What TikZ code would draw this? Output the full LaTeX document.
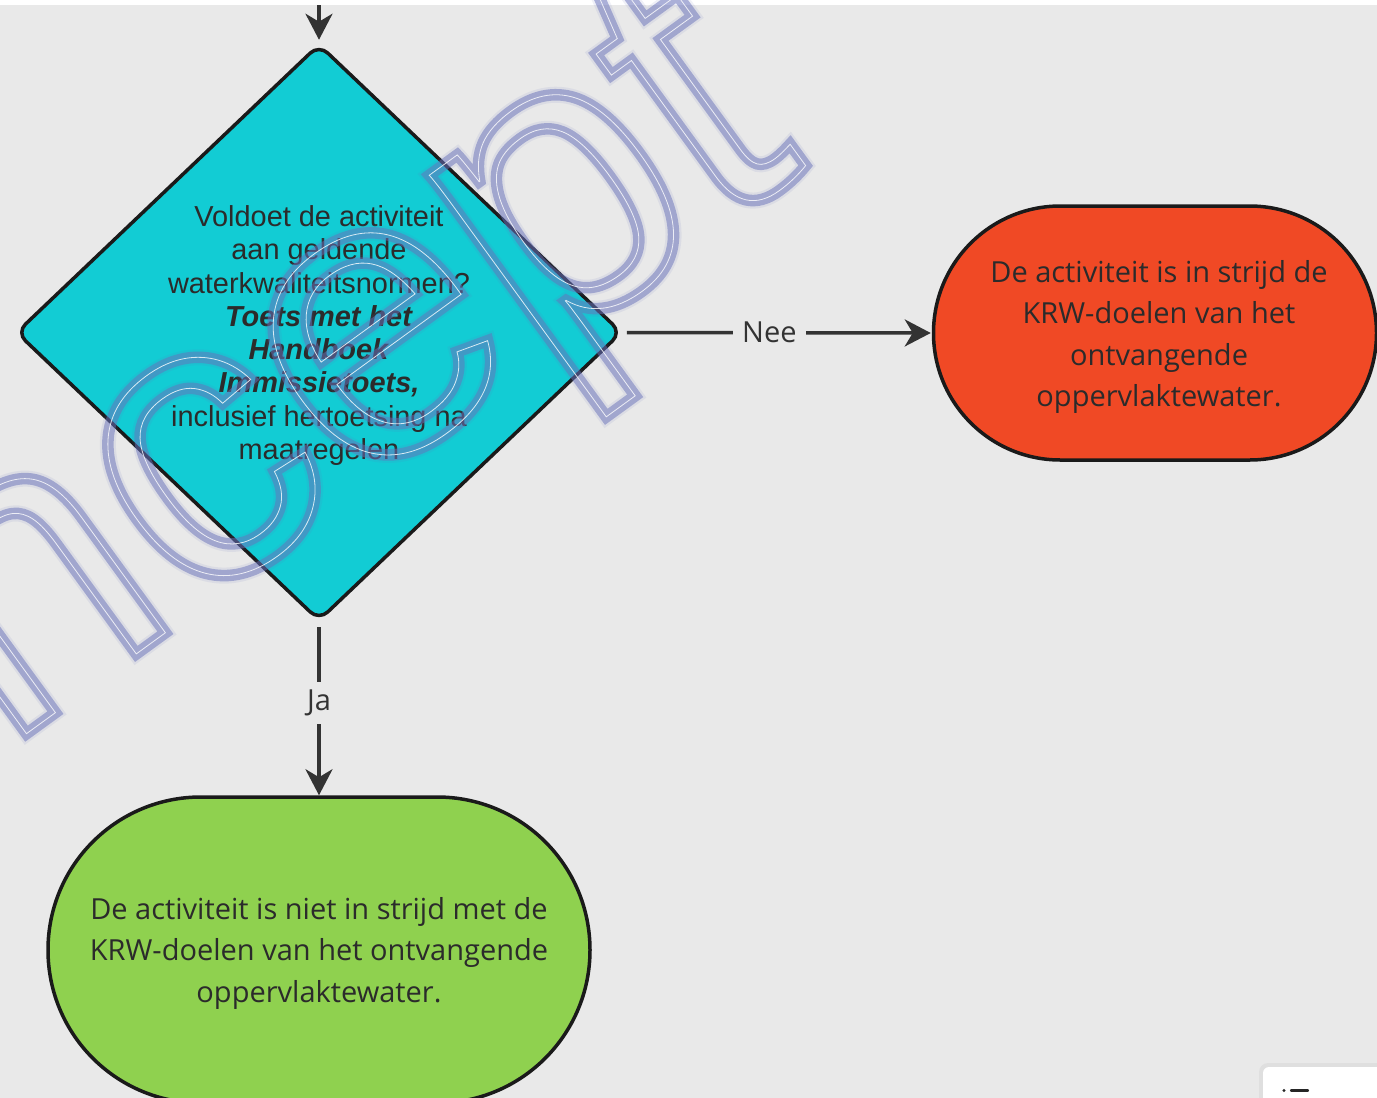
\documentclass[tikz,border=0pt]{standalone}
\usepackage{fontspec}
\setmainfont{Open Sans}
\newfontfamily\arialfont{Liberation Sans}
\newfontfamily\stampfont{Liberation Sans}
\usetikzlibrary{shapes.geometric,arrows.meta}

\definecolor{canvas}{HTML}{E9E9E9}
\definecolor{decfill}{HTML}{12CCD4}
\definecolor{nofill}{HTML}{F04925}
\definecolor{yesfill}{HTML}{8FD14F}
\definecolor{edge}{HTML}{1A1A1A}
\definecolor{link}{HTML}{333333}
\definecolor{ink}{HTML}{2B2B2B}
\definecolor{stamp}{RGB}{104,113,186}

% glyph outlines only: text render mode 1 with the given line width
\newcommand\strokedtext[2]{\special{pdf:literal direct 1 Tr #1 w}#2\special{pdf:literal direct 0 Tr}}

\tikzset{
  decision/.style={diamond, draw=edge, line width=3.5pt, fill=decfill,
    minimum width=606pt, minimum height=577pt, inner sep=0pt,
    rounded corners=12pt},
  dectext/.style={inner sep=0pt, align=center, text=ink,
    font=\arialfont\fontsize{28.9}{33.3}\selectfont},
  terminal/.style={rectangle, draw=edge, line width=3.5pt, inner sep=0pt},
  termtext/.style={inner sep=0pt, align=center, text=ink,
    font=\fontsize{29}{41.5}\selectfont},
  flow/.style={draw=link, line width=3.5pt,
    -{Stealth[length=26pt,width=27pt,inset=8pt]}},
  flowlabel/.style={fill=canvas, text=link, inner xsep=9pt, inner ysep=8pt,
    font=\fontsize{29}{34}\selectfont},
  stampbase/.style={anchor=base west, rotate=36, inner sep=0pt,
    font=\stampfont\fontsize{407}{407}\selectfont},
}

\begin{document}
\begin{tikzpicture}[x=1pt,y=-1pt]
% canvas
\fill[canvas] (0,0) rectangle (1377,1098);
\fill[white] (0,0) rectangle (1377,4.5);
\useasboundingbox (0,0) rectangle (1377,1098);

% decision
\node[decision] (dec) at (319,332.5) {};
\node[dectext] (decq) at (319,335.5) {Voldoet de activiteit\\aan geldende\\waterkwaliteitsnormen?\\
  \textbf{\textit{Toets met het}}\\\textbf{\textit{Handboek}}\\\textbf{\textit{Immissietoets,}}\\
  inclusief hertoetsing na\\maatregelen};

% outcomes
\node[terminal, fill=nofill, minimum width=443pt, minimum height=254pt,
      rounded corners=126.9pt] (no) at (1155,333) {};
\node[termtext] (noq) at (1159,337)
  {De activiteit is in strijd de\\KRW-doelen van het\\ontvangende\\oppervlaktewater.};
\node[terminal, fill=yesfill, minimum width=542pt, minimum height=306pt,
      rounded corners=152.9pt] (yes) at (319,950) {};
\node[termtext] (yesq) at (319,953)
  {De activiteit is niet in strijd met de\\KRW-doelen van het ontvangende\\oppervlaktewater.};

% connectors
\coordinate (entry) at (319,5);
\draw[flow, shorten >=2.5pt] (entry) -- (dec.north);
\draw[flow, shorten <=3pt, shorten >=1pt] (dec.east) -- node[flowlabel, pos=0.473] (nee) {Nee} (no.west);
\draw[flow, shorten <=4.5pt] (dec.south) -- node[flowlabel, pos=0.467] (ja) {Ja} (yes.north);

% panel in the lower right corner
\fill[black, opacity=0.04, rounded corners=9pt] (1259,1063) rectangle (1395,1115);
\fill[white, rounded corners=6pt] (1263,1067) rectangle (1395,1115);
\fill[black!85] (1284,1090.5) circle (1.7pt);
\draw[black!85, line width=2.3pt, line cap=round] (1291,1090.5) -- (1308,1090.5);

% watermark
\begin{scope}[opacity=0.1]
\node[stampbase, text=stamp] (stamphalo) at (3.6,750.3) {\strokedtext{16}{\llap{Co}ncept}};
\end{scope}
\begin{scope}[opacity=0.5]
\node[stampbase, text=stamp] (stampline) at (3.6,750.3) {\strokedtext{11.5}{\llap{Co}ncept}};
\end{scope}
\begin{scope}[opacity=0.8]
\node[stampbase, text=white] (stampcore) at (3.6,750.3) {\strokedtext{0.8}{\llap{Co}ncept}};
\end{scope}
\end{tikzpicture}
\end{document}
